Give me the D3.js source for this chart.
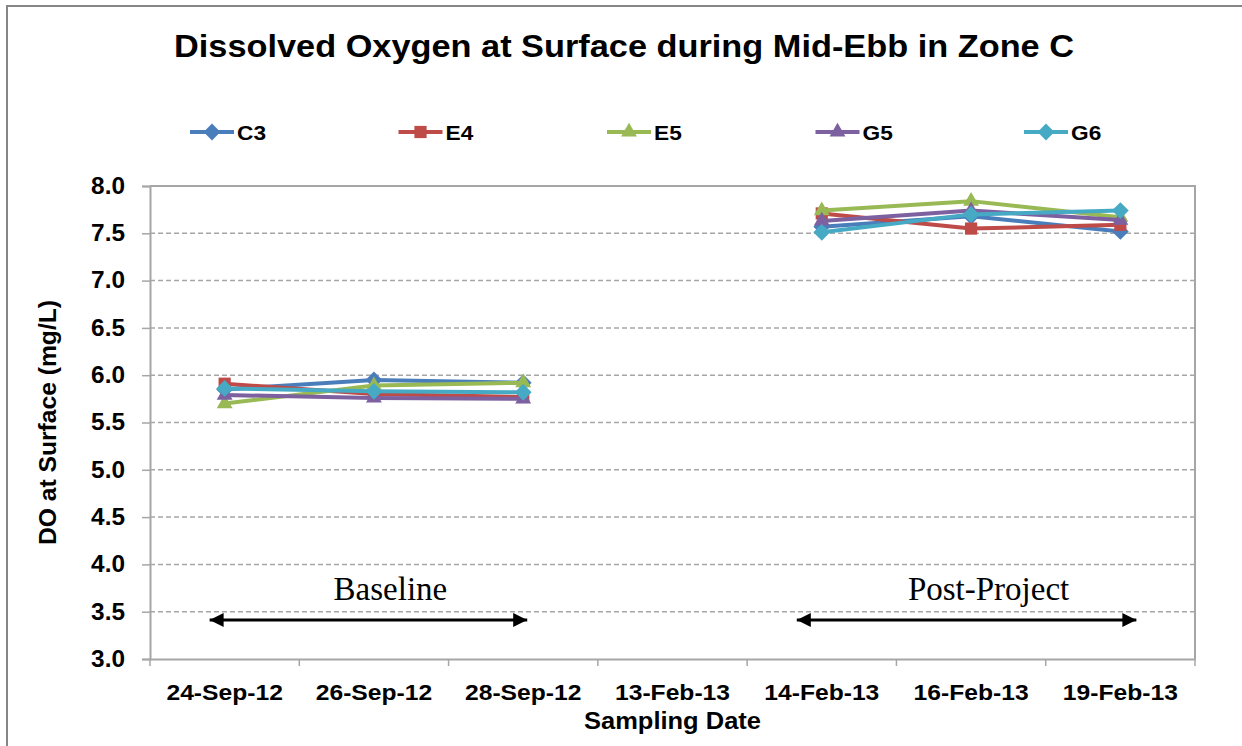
<!DOCTYPE html>
<html>
<head>
<meta charset="utf-8">
<script src="https://cdn.jsdelivr.net/npm/d3@7"></script>
<style>
  body { margin: 0; background: #fff; }
  text { font-family: "Liberation Sans", Arial, sans-serif; }
</style>
</head>
<body>
<script>
var width = 1242;
var height = 746;

var dates = ["24-Sep-12", "26-Sep-12", "28-Sep-12", "13-Feb-13", "14-Feb-13", "16-Feb-13", "19-Feb-13"];
var seriesNames = ["C3", "E4", "E5", "G5", "G6"];
var c3 = [5.85, 5.95, 5.92, null, 7.57, 7.68, 7.52];
var e4 = [5.91, 5.80, 5.77, null, 7.71, 7.55, 7.59];
var e5 = [5.70, 5.89, 5.92, null, 7.74, 7.84, 7.67];
var g5 = [5.79, 5.76, 5.75, null, 7.63, 7.74, 7.64];
var g6 = [5.86, 5.83, 5.82, null, 7.51, 7.70, 7.74];
var yTicks = [3.0, 3.5, 4.0, 4.5, 5.0, 5.5, 6.0, 6.5, 7.0, 7.5, 8.0];
var colors = ["#4a7ebb", "#be4b48", "#98b954", "#7d60a0", "#46aac5"];
var shapes = ["diamond", "square", "triangle", "triangle", "diamond"];
var periods = [
    { label: "Baseline", from: 0, to: 2 },
    { label: "Post-Project", from: 4, to: 6 }
];

var allValues = [c3, e4, e5, g5, g6];

var plotLeft = 150, plotRight = 1195, plotTop = 186, plotBottom = 659;

var svg = d3.select("body").append("svg")
    .attr("width", width)
    .attr("height", height);

// stretch text horizontally a bit, the original is wider than Arial
function stretch(sel, f) {
    sel.each(function () {
        var w = this.getComputedTextLength();
        d3.select(this).attr("textLength", w * f).attr("lengthAdjust", "spacingAndGlyphs");
    });
}

// outer chart frame
svg.append("rect")
    .attr("x", 7).attr("y", 6)
    .attr("width", 1240).attr("height", 750)
    .attr("fill", "none")
    .attr("stroke", "#868686")
    .attr("stroke-width", 2);

var xScale = d3.scaleBand().domain(dates).range([plotLeft, plotRight]);
var yScale = d3.scaleLinear().domain([3, 8]).range([plotBottom, plotTop]);

// gridlines
svg.append("g").selectAll("line")
    .data(yTicks.filter(d => d > 3 && d < 8))
    .enter().append("line")
    .attr("x1", plotLeft).attr("x2", plotRight)
    .attr("y1", d => yScale(d)).attr("y2", d => yScale(d))
    .attr("stroke", "#a6a6a6")
    .attr("stroke-width", 1.5)
    .attr("stroke-dasharray", "5,3");

// plot area border (top & right)
svg.append("path")
    .attr("d", "M" + plotLeft + "," + plotTop + "H" + plotRight + "V" + plotBottom)
    .attr("fill", "none")
    .attr("stroke", "#a6a6a6")
    .attr("stroke-width", 2);

var yAxis = d3.axisLeft(yScale).tickValues(yTicks).tickFormat(d3.format(".1f")).tickSizeOuter(0).tickSize(8).tickPadding(17);
var gy = svg.append("g").attr("transform", "translate(" + plotLeft + ",0)").call(yAxis);
gy.select(".domain").attr("stroke", "#a6a6a6").attr("stroke-width", 2);
gy.selectAll(".tick line").attr("stroke", "#a6a6a6").attr("stroke-width", 1.5);
gy.selectAll(".tick text").attr("font-size", 23).attr("font-weight", "bold").attr("fill", "#000")
    .attr("font-family", "Liberation Sans, Arial, sans-serif");
stretch(gy.selectAll(".tick text"), 1.06);

var xAxis = d3.axisBottom(xScale).tickSize(0).tickPadding(25);
var gx = svg.append("g").attr("transform", "translate(0," + plotBottom + ")").call(xAxis);
gx.select(".domain").attr("stroke", "#a6a6a6").attr("stroke-width", 2);
gx.selectAll(".tick text").attr("font-size", 22).attr("font-weight", "bold").attr("fill", "#000")
    .attr("font-family", "Liberation Sans, Arial, sans-serif");
stretch(gx.selectAll(".tick text"), 1.12);
// category boundary ticks
svg.append("g").selectAll("line")
    .data(dates.concat(["end"]))
    .enter().append("line")
    .attr("x1", (d, i) => plotLeft + i * xScale.step())
    .attr("x2", (d, i) => plotLeft + i * xScale.step())
    .attr("y1", plotBottom).attr("y2", plotBottom + 7)
    .attr("stroke", "#a6a6a6").attr("stroke-width", 1.5);

// title and axis titles
var title = svg.append("text")
    .attr("x", 624).attr("y", 57)
    .attr("text-anchor", "middle")
    .attr("font-size", 32).attr("font-weight", "bold")
    .text("Dissolved Oxygen at Surface during Mid-Ebb in Zone C");
title.attr("textLength", 900).attr("lengthAdjust", "spacingAndGlyphs");

var yTitle = svg.append("text")
    .attr("transform", "translate(56," + ((plotTop + plotBottom) / 2) + ") rotate(-90)")
    .attr("text-anchor", "middle")
    .attr("font-size", 23).attr("font-weight", "bold")
    .text("DO at Surface (mg/L)");
yTitle.attr("textLength", 245).attr("lengthAdjust", "spacingAndGlyphs");

var xTitle = svg.append("text")
    .attr("x", (plotLeft + plotRight) / 2).attr("y", 729)
    .attr("text-anchor", "middle")
    .attr("font-size", 23).attr("font-weight", "bold")
    .text("Sampling Date");
xTitle.attr("textLength", 177).attr("lengthAdjust", "spacingAndGlyphs");

function symbolFor(shape) {
    if (shape === "diamond") return d3.symbol().type(d3.symbolDiamond2).size(180)();
    if (shape === "square") return d3.symbol().type(d3.symbolSquare2).size(190)();
    return d3.symbol().type(d3.symbolTriangle2).size(180)();
}

var cx = d => xScale(d) + xScale.bandwidth() / 2;

var line = d3.line()
    .defined(d => d.v !== null)
    .x(d => cx(d.date))
    .y(d => yScale(d.v));

seriesNames.forEach(function (name, s) {
    var pts = dates.map((date, i) => ({ date: date, v: allValues[s][i] }));
    var g = svg.append("g");
    g.append("path")
        .datum(pts)
        .attr("fill", "none")
        .attr("stroke", colors[s])
        .attr("stroke-width", 4)
        .attr("stroke-linejoin", "round")
        .attr("d", line);
    g.selectAll(".m")
        .data(pts.filter(d => d.v !== null))
        .enter().append("path")
        .attr("transform", d => "translate(" + cx(d.date) + "," + yScale(d.v) + ")")
        .attr("d", symbolFor(shapes[s]))
        .attr("fill", colors[s]);
});

// legend
var legend = svg.append("g");
seriesNames.forEach(function (name, s) {
    var x0 = 190 + s * 208.5;
    var y0 = 132;
    legend.append("line")
        .attr("x1", x0).attr("x2", x0 + 44)
        .attr("y1", y0).attr("y2", y0)
        .attr("stroke", colors[s]).attr("stroke-width", 4);
    legend.append("path")
        .attr("transform", "translate(" + (x0 + 22) + "," + y0 + ")")
        .attr("d", symbolFor(shapes[s]))
        .attr("fill", colors[s]);
    var t = legend.append("text")
        .attr("x", x0 + 47).attr("y", y0 + 8)
        .attr("font-size", 21).attr("font-weight", "bold")
        .text(name);
    stretch(t, 1.08);
});

// period annotations
var defs = svg.append("defs");
defs.append("marker")
    .attr("id", "ah")
    .attr("viewBox", "0 0 10 10")
    .attr("refX", 10).attr("refY", 5)
    .attr("markerWidth", 15).attr("markerHeight", 14)
    .attr("markerUnits", "userSpaceOnUse")
    .attr("orient", "auto-start-reverse")
    .append("path")
    .attr("d", "M0,0 L10,5 L0,10 Z")
    .attr("fill", "#000");

periods.forEach(function (p, k) {
    // arrows reach a little past the first and last points
    var padL = k === 0 ? 15 : 25;
    var padR = k === 0 ? 4 : 16;
    var x1 = cx(dates[p.from]) - padL;
    var x2 = cx(dates[p.to]) + padR;
    var y = 620;
    svg.append("line")
        .attr("x1", x1).attr("x2", x2)
        .attr("y1", y).attr("y2", y)
        .attr("stroke", "#000").attr("stroke-width", 3)
        .attr("marker-start", "url(#ah)")
        .attr("marker-end", "url(#ah)");
    svg.append("text")
        .attr("x", (x1 + x2) / 2 + 22).attr("y", 600)
        .attr("text-anchor", "middle")
        .style("font-family", "'Liberation Serif', 'DejaVu Serif', serif")
        .attr("font-size", 33)
        .text(p.label);
});
</script>
</body>
</html>
